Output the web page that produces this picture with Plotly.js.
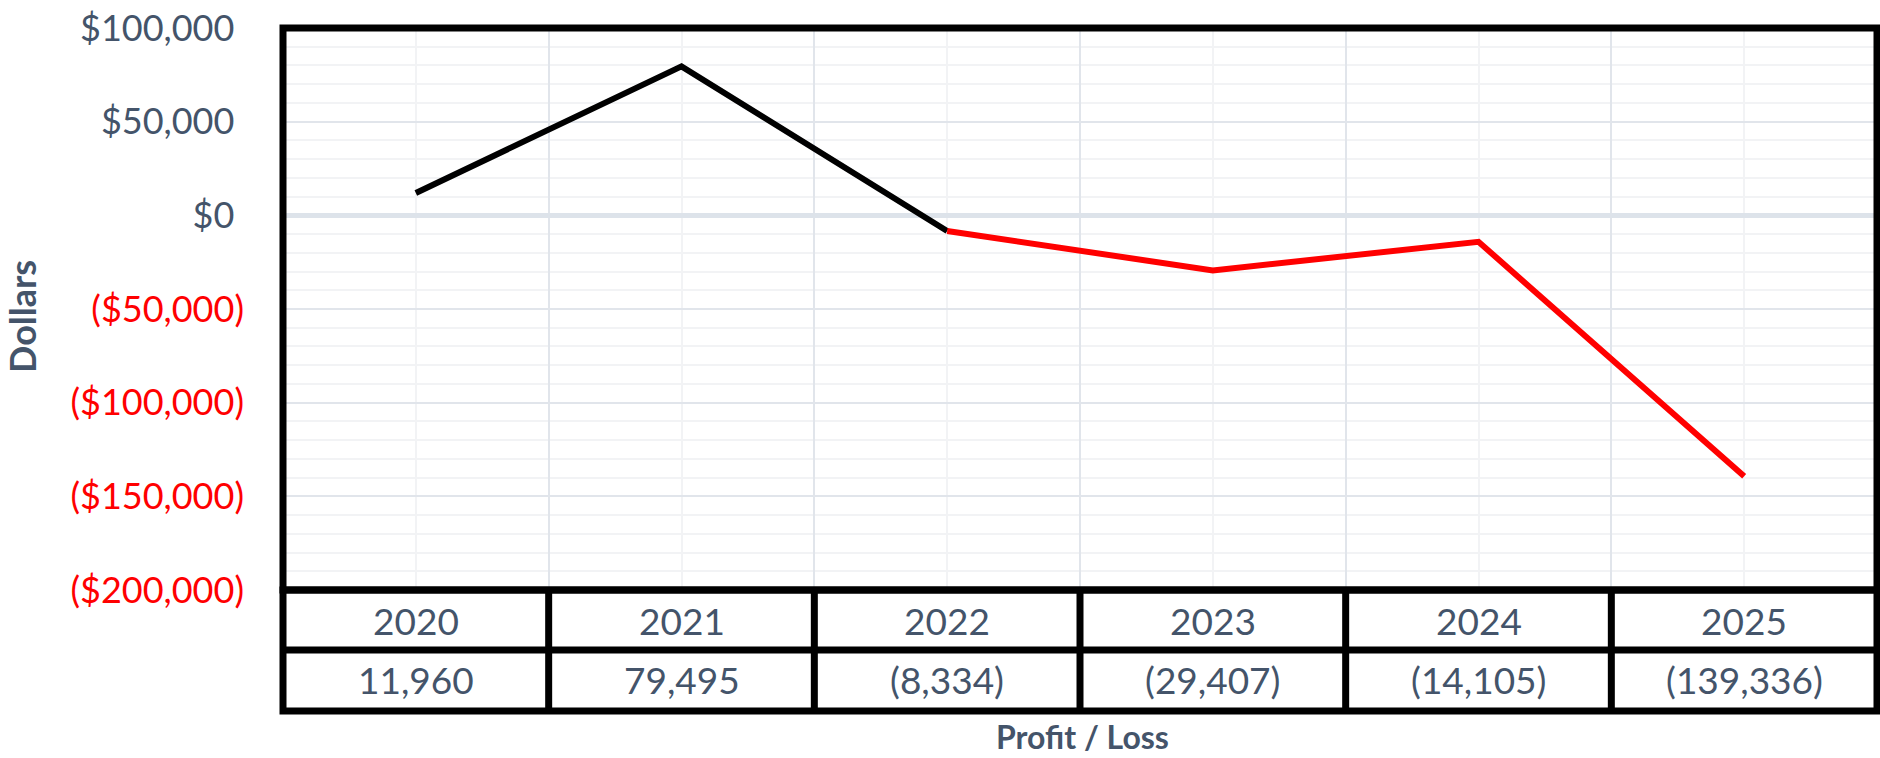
<!DOCTYPE html>
<html>
<head>
<meta charset="utf-8">
<script src="https://cdn.plot.ly/plotly-3.0.1.min.js"></script>
<style>
  html, body { margin: 0; padding: 0; background: #ffffff; }
  #chart { width: 1880px; height: 758px; }
</style>
</head>
<body>
<div id="chart"></div>
<script>
// ---- data ----
const years = [2020, 2021, 2022, 2023, 2024, 2025];
const profit = [11960, 79495, -8334, -29407, -14105, -139336];
const yTickVals = [100000, 50000, 0, -50000, -100000, -150000, -200000];
const xTitle = 'Profit / Loss';
const yTitle = 'Dollars';

// ---- styles ----
const TEXT = '#44546A';
const RED = '#FF0000';
const FONT = 'Lato, "Open Sans", sans-serif';

function fmtNum(v) {
  const s = Math.abs(v).toLocaleString('en-US');
  return v < 0 ? '(' + s + ')' : s;
}
function fmtTick(v) {
  const s = Math.abs(v).toLocaleString('en-US');
  if (v < 0) return '<span style="color:' + RED + '">($' + s + ')</span>';
  return '$' + s + '<span style="color:rgba(0,0,0,0)">)</span>';
}

// segments coloured by the sign of their starting point
const traces = [];
let cur = null;
for (let i = 0; i < profit.length - 1; i++) {
  const col = profit[i] >= 0 ? '#000000' : RED;
  if (!cur || cur.line.color !== col) {
    cur = { type: 'scatter', mode: 'lines', x: [years[i]], y: [profit[i]],
            line: { color: col, width: 6 }, hoverinfo: 'x+y', showlegend: false };
    traces.push(cur);
  }
  cur.x.push(years[i + 1]);
  cur.y.push(profit[i + 1]);
}

// geometry (paper fractions below the plot for the data table)
const rowDiv = -0.1068, tableBottom = -0.2153;
const row1Y = -0.0534, row2Y = -0.1601;

const shapes = [
  { type: 'rect', xref: 'paper', yref: 'paper', x0: 0, x1: 1, y0: 0, y1: 1,
    line: { color: '#000', width: 7 }, fillcolor: 'rgba(0,0,0,0)', layer: 'above' },
  { type: 'rect', xref: 'paper', yref: 'paper', x0: 0, x1: 1, y0: tableBottom, y1: 0,
    line: { color: '#000', width: 7 }, fillcolor: 'rgba(0,0,0,0)', layer: 'above' },
  { type: 'line', xref: 'paper', yref: 'paper', x0: 0, x1: 1, y0: rowDiv, y1: rowDiv,
    line: { color: '#000', width: 7 }, layer: 'above' }
];
for (let i = 0; i < years.length - 1; i++) {
  shapes.push({ type: 'line', xref: 'x', yref: 'paper', x0: years[i] + 0.5, x1: years[i] + 0.5,
    y0: tableBottom, y1: 0, line: { color: '#000', width: 7 }, layer: 'above' });
}

const annotations = [];
years.forEach((yr, i) => {
  annotations.push({ xref: 'x', yref: 'paper', x: yr, y: row1Y, text: String(yr),
    showarrow: false, xanchor: 'center', yanchor: 'middle',
    font: { family: FONT, size: 37, color: TEXT } });
  annotations.push({ xref: 'x', yref: 'paper', x: yr, y: row2Y, text: fmtNum(profit[i]),
    showarrow: false, xanchor: 'center', yanchor: 'middle',
    font: { family: FONT, size: 37, color: TEXT } });
});
annotations.push({ xref: 'paper', yref: 'paper', x: 0.5, y: -0.2598, xshift: 2,
  text: '<b>' + xTitle + '</b>', showarrow: false, xanchor: 'center', yanchor: 'middle',
  font: { family: FONT, size: 32, color: TEXT } });
annotations.push({ xref: 'paper', yref: 'paper', x: 0, y: 0.5, xshift: -261, yshift: -8,
  text: '<b>' + yTitle + '</b>', textangle: -90, showarrow: false,
  xanchor: 'center', yanchor: 'middle',
  font: { family: FONT, size: 36, color: TEXT } });

const layout = {
  width: 1880, height: 758,
  margin: { l: 283, r: 3, t: 28, b: 168, pad: 0 },
  paper_bgcolor: '#ffffff', plot_bgcolor: '#ffffff',
  showlegend: false,
  font: { family: FONT, color: TEXT },
  xaxis: {
    type: 'linear', range: [years[0] - 0.5, years[years.length - 1] + 0.5],
    tick0: years[0] - 0.5, dtick: 1, showticklabels: false, ticks: '',
    showgrid: true, gridcolor: '#e1e5eb', gridwidth: 2,
    minor: { tick0: years[0], dtick: 1, showgrid: true, gridcolor: '#f2f3f5', gridwidth: 2, ticks: '' },
    zeroline: false, showline: false, fixedrange: true
  },
  yaxis: {
    range: [-200000, 100000],
    tickmode: 'array', tickvals: yTickVals, ticktext: yTickVals.map(fmtTick),
    ticks: '', ticklabelstandoff: 38, ticklabeloverflow: 'allow',
    tickfont: { family: FONT, size: 36, color: TEXT },
    showgrid: true, gridcolor: '#e1e5eb', gridwidth: 2,
    minor: { dtick: 10000, showgrid: true, gridcolor: '#f2f3f5', gridwidth: 2, ticks: '' },
    zeroline: true, zerolinecolor: '#dde3ea', zerolinewidth: 5,
    showline: false, fixedrange: true
  },
  shapes: shapes,
  annotations: annotations
};

Plotly.newPlot('chart', traces, layout, { displayModeBar: false, staticPlot: true });
</script>
</body>
</html>
